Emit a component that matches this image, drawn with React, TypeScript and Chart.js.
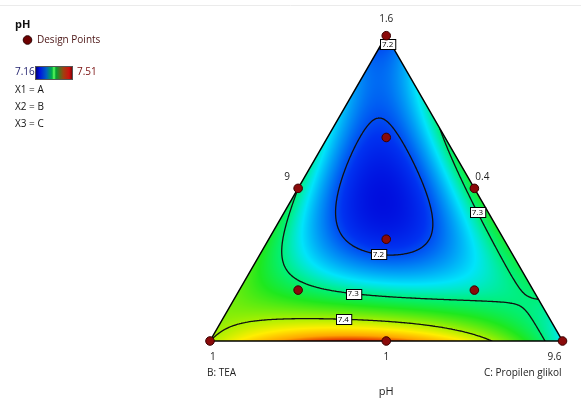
import React, { useEffect, useRef } from "react";
import { Chart, registerables } from "chart.js";

Chart.register(...registerables);

// ---- Data -------------------------------------------------------------
// Scheffé special-cubic model of pH over pseudo-components A, B, C
const linearCoefs = [7.19, 7.4, 7.26]; // A, B, C
const pairCoefs = [0.02, 0.42, 0.7]; // AB, AC, BC
const tripleCoef = -6.2; // ABC
const pHMin = 7.16;
const pHMax = 7.51;
const contourLevels = [7.2, 7.3, 7.4];

// Design points (fractions of A, B, C)
const designA = [1, 0, 0, 0.5, 0.5, 0, 1 / 3, 2 / 3, 1 / 6, 1 / 6];
const designB = [0, 1, 0, 0.5, 0, 0.5, 1 / 3, 1 / 6, 2 / 3, 1 / 6];
const designC = [0, 0, 1, 0, 0.5, 0.5, 1 / 3, 1 / 6, 1 / 6, 2 / 3];

// Axis labels
const vertexTickLabels = ["1.6", "1", "9.6"]; // A (top), B (left), C (right)
const edgeTickLabels = ["9", "0.4", "1"]; // AB mid, AC mid, BC mid
const componentLabels = ["B: TEA", "C: Propilen glikol"];
const responseName = "pH";
const legendLines = ["X1 = A", "X2 = B", "X3 = C"];

// Contour label anchors (level, composition near the label)
const labelLevels = [7.2, 7.2, 7.3, 7.3, 7.4];
const labelA = [0.985, 0.292, 0.164, 0.423, 0.079];
const labelB = [0.014, 0.374, 0.511, 0.029, 0.582];
const labelC = [0.001, 0.334, 0.325, 0.548, 0.339];

// ---- Helpers ----------------------------------------------------------
const H = Math.sqrt(3) / 2;
const FONT = '"Open Sans", "Liberation Sans", sans-serif';

function model(a: number, b: number, c: number) {
  return (
    linearCoefs[0] * a +
    linearCoefs[1] * b +
    linearCoefs[2] * c +
    pairCoefs[0] * a * b +
    pairCoefs[1] * a * c +
    pairCoefs[2] * b * c +
    tripleCoef * a * b * c
  );
}

const stopVals = [7.16, 7.19, 7.22, 7.26, 7.3, 7.34, 7.4, 7.44, 7.48, 7.51];
const stopCols = [
  [0, 10, 220],
  [0, 50, 240],
  [0, 130, 245],
  [0, 228, 250],
  [0, 240, 120],
  [30, 232, 30],
  [170, 240, 0],
  [255, 238, 0],
  [255, 165, 0],
  [225, 35, 0],
];

function colorFor(v: number) {
  if (v <= stopVals[0]) return stopCols[0];
  for (let i = 1; i < stopVals.length; i++) {
    if (v <= stopVals[i]) {
      const t = (v - stopVals[i - 1]) / (stopVals[i] - stopVals[i - 1]);
      const c0 = stopCols[i - 1];
      const c1 = stopCols[i];
      return [c0[0] + (c1[0] - c0[0]) * t, c0[1] + (c1[1] - c0[1]) * t, c0[2] + (c1[2] - c0[2]) * t];
    }
  }
  return stopCols[stopCols.length - 1];
}

function contourSegments(level: number, N: number) {
  const vals: number[][] = [];
  for (let a = 0; a <= N; a++) {
    vals[a] = [];
    for (let c = 0; c <= N - a; c++) {
      const A = a / N;
      const C = c / N;
      vals[a][c] = model(A, Math.max(0, 1 - A - C), C);
    }
  }
  const segs: number[][] = [];
  const proc = (p: number[][]) => {
    const pts: number[][] = [];
    for (let i = 0; i < 3; i++) {
      const j = (i + 1) % 3;
      const vi = p[i][2];
      const vj = p[j][2];
      if (vi >= level !== vj >= level) {
        const t = (level - vi) / (vj - vi);
        pts.push([p[i][0] + (p[j][0] - p[i][0]) * t, p[i][1] + (p[j][1] - p[i][1]) * t]);
      }
    }
    if (pts.length === 2) segs.push([pts[0][0] / N, pts[0][1] / N, pts[1][0] / N, pts[1][1] / N]);
  };
  for (let a = 0; a < N; a++) {
    for (let c = 0; c < N - a; c++) {
      proc([
        [a, c, vals[a][c]],
        [a + 1, c, vals[a + 1][c]],
        [a, c + 1, vals[a][c + 1]],
      ]);
      if (a + c + 2 <= N) {
        proc([
          [a + 1, c, vals[a + 1][c]],
          [a, c + 1, vals[a][c + 1]],
          [a + 1, c + 1, vals[a + 1][c + 1]],
        ]);
      }
    }
  }
  return segs; // [A1, C1, A2, C2]
}

const ternaryPlugin = {
  id: "ternaryField",
  beforeDatasetsDraw(chart: any) {
    const { ctx, chartArea, scales } = chart;
    const xs = scales.x;
    const ys = scales.y;
    const px = (A: number, C: number) => xs.getPixelForValue(C + A / 2);
    const py = (A: number) => ys.getPixelForValue(A * H);

    // colour field
    const left = Math.floor(chartArea.left) - 1;
    const top = Math.floor(chartArea.top) - 1;
    const w = Math.ceil(chartArea.right) - left + 2;
    const h = Math.ceil(chartArea.bottom) - top + 2;
    const off = document.createElement("canvas");
    off.width = w;
    off.height = h;
    const octx = off.getContext("2d")!;
    const img = octx.createImageData(w, h);
    for (let j = 0; j < h; j++) {
      const Y = ys.getValueForPixel(top + j + 0.5);
      let A = Y / H;
      A = Math.min(1, Math.max(0, A));
      for (let i = 0; i < w; i++) {
        const X = xs.getValueForPixel(left + i + 0.5);
        let C = X - A / 2;
        C = Math.min(1 - A, Math.max(0, C));
        const B = Math.max(0, 1 - A - C);
        const col = colorFor(model(A, B, C));
        const k = (j * w + i) * 4;
        img.data[k] = col[0];
        img.data[k + 1] = col[1];
        img.data[k + 2] = col[2];
        img.data[k + 3] = 255;
      }
    }
    octx.putImageData(img, 0, 0);

    const tri = () => {
      ctx.beginPath();
      ctx.moveTo(px(1, 0), py(1));
      ctx.lineTo(px(0, 0), py(0));
      ctx.lineTo(px(0, 1), py(0));
      ctx.closePath();
    };
    ctx.save();
    tri();
    ctx.clip();
    ctx.drawImage(off, left, top);

    // contours
    ctx.strokeStyle = "#111";
    ctx.lineWidth = 1.3;
    ctx.lineCap = "round";
    const allSegs: Record<string, number[][]> = {};
    contourLevels.forEach((lv) => {
      const segs = contourSegments(lv, 160);
      const pix = segs.map((s) => [px(s[0], s[1]), py(s[0]), px(s[2], s[3]), py(s[2])]);
      allSegs[String(lv)] = pix;
      ctx.beginPath();
      pix.forEach((s) => {
        ctx.moveTo(s[0], s[1]);
        ctx.lineTo(s[2], s[3]);
      });
      ctx.stroke();
    });
    ctx.restore();

    // outline
    ctx.save();
    tri();
    ctx.strokeStyle = "#000";
    ctx.lineWidth = 1.5;
    ctx.stroke();
    ctx.restore();

    // contour labels
    ctx.save();
    ctx.font = `8px ${FONT}`;
    ctx.textAlign = "center";
    ctx.textBaseline = "middle";
    labelLevels.forEach((lv, i) => {
      const hx = px(labelA[i], labelC[i]);
      const hy = py(labelA[i]);
      const segs = allSegs[String(lv)] || [];
      let best = [hx, hy];
      let bd = Infinity;
      segs.forEach((s) => {
        const mx = (s[0] + s[2]) / 2;
        const my = (s[1] + s[3]) / 2;
        const d = (mx - hx) ** 2 + (my - hy) ** 2;
        if (d < bd) {
          bd = d;
          best = [mx, my];
        }
      });
      const text = lv.toFixed(1);
      const tw = ctx.measureText(text).width + 4;
      const bh = 10;
      const bx = Math.round(best[0] - tw / 2) + 0.5;
      const by = Math.round(best[1] - bh / 2) + 0.5;
      ctx.fillStyle = "#fff";
      ctx.fillRect(bx, by, tw, bh);
      ctx.strokeStyle = "#000";
      ctx.lineWidth = 1;
      ctx.strokeRect(bx, by, tw, bh);
      ctx.fillStyle = "#000";
      ctx.fillText(text, best[0], best[1] + 0.5);
    });
    ctx.restore();
  },
  afterDraw(chart: any) {
    const { ctx, scales } = chart;
    const xs = scales.x;
    const ys = scales.y;
    const px = (A: number, C: number) => xs.getPixelForValue(C + A / 2);
    const py = (A: number) => ys.getPixelForValue(A * H);
    ctx.save();
    // faint frame line at top
    ctx.strokeStyle = "#ebebeb";
    ctx.lineWidth = 1;
    ctx.beginPath();
    ctx.moveTo(0, 5.5);
    ctx.lineTo(581, 5.5);
    ctx.stroke();

    ctx.fillStyle = "#222";
    ctx.font = `10px ${FONT}`;
    ctx.textBaseline = "middle";
    // vertex labels
    ctx.textAlign = "center";
    ctx.fillText(vertexTickLabels[0], px(1, 0), py(1) - 17);
    ctx.textAlign = "left";
    ctx.fillText(vertexTickLabels[1], px(0, 0) - 0, py(0) + 16);
    ctx.textAlign = "right";
    ctx.fillText(vertexTickLabels[2], px(0, 1) - 1, py(0) + 16);
    // edge labels
    ctx.textAlign = "center";
    ctx.fillText(edgeTickLabels[0], px(0.5, 0) - 11, py(0.5) - 11);
    ctx.fillText(edgeTickLabels[1], px(0.5, 0.5) + 8, py(0.5) - 11);
    ctx.fillText(edgeTickLabels[2], px(0, 0.5), py(0) + 16);
    // component names
    ctx.textAlign = "left";
    ctx.fillText(componentLabels[0], px(0, 0) - 3, py(0) + 32);
    ctx.textAlign = "right";
    ctx.fillText(componentLabels[1], px(0, 1) - 1, py(0) + 32);
    ctx.textAlign = "center";
    ctx.font = `11px ${FONT}`;
    ctx.fillText(responseName, px(0, 0.5), py(0) + 51);

    // legend
    ctx.textAlign = "left";
    ctx.fillStyle = "#111";
    ctx.font = `bold 11px ${FONT}`;
    ctx.fillText(responseName, 15, 25);
    ctx.beginPath();
    ctx.arc(27.5, 40, 4.3, 0, Math.PI * 2);
    ctx.fillStyle = "#6e0000";
    ctx.fill();
    ctx.strokeStyle = "#2a0000";
    ctx.lineWidth = 1;
    ctx.stroke();
    ctx.font = `10px ${FONT}`;
    ctx.fillStyle = "#4a1414";
    ctx.fillText("Design Points", 37, 40);
    ctx.fillStyle = "#1c1c6a";
    ctx.fillText(pHMin.toFixed(2), 15, 72);
    ctx.fillStyle = "#7a1010";
    ctx.fillText(pHMax.toFixed(2), 77, 72);
    const g = ctx.createLinearGradient(35, 0, 73, 0);
    g.addColorStop(0, "#000060");
    g.addColorStop(0.12, "#0010e0");
    g.addColorStop(0.3, "#0060c0");
    g.addColorStop(0.45, "#00b040");
    g.addColorStop(0.5, "#60ff60");
    g.addColorStop(0.55, "#00a030");
    g.addColorStop(0.75, "#a04010");
    g.addColorStop(0.9, "#d01010");
    g.addColorStop(1, "#600000");
    ctx.fillStyle = g;
    ctx.fillRect(35, 66, 38, 14);
    ctx.strokeStyle = "#555";
    ctx.strokeRect(35.5, 66.5, 37, 13);
    ctx.fillStyle = "#111";
    legendLines.forEach((t, i) => ctx.fillText(t, 15, 90 + i * 17));
    ctx.restore();
  },
};

export default function App() {
  const ref = useRef<HTMLCanvasElement | null>(null);
  useEffect(() => {
    if (!ref.current) return;
    const chart = new Chart(ref.current, {
      type: "scatter",
      data: {
        datasets: [
          {
            label: "Design Points",
            data: designA.map((a, i) => ({ x: designC[i] + a / 2, y: a * H })),
            pointRadius: 4.3,
            pointHoverRadius: 4.3,
            backgroundColor: "#8a0a0a",
            borderColor: "#3a0000",
            borderWidth: 1,
            clip: false,
          } as any,
        ],
      },
      options: {
        animation: false,
        responsive: false,
        maintainAspectRatio: false,
        layout: { padding: { left: 210, right: 18.5, top: 35.7, bottom: 62 } },
        scales: {
          x: { type: "linear", min: 0, max: 1, display: false },
          y: { type: "linear", min: 0, max: H, display: false },
        },
        plugins: { legend: { display: false }, tooltip: { enabled: false } },
      },
      plugins: [ternaryPlugin],
    });
    return () => chart.destroy();
  }, []);
  return (
    <div style={{ position: "fixed", left: 0, top: 0, width: 581, height: 403, background: "#fff" }}>
      <canvas ref={ref} width={581} height={403} style={{ display: "block", width: 581, height: 403 }} />
    </div>
  );
}
